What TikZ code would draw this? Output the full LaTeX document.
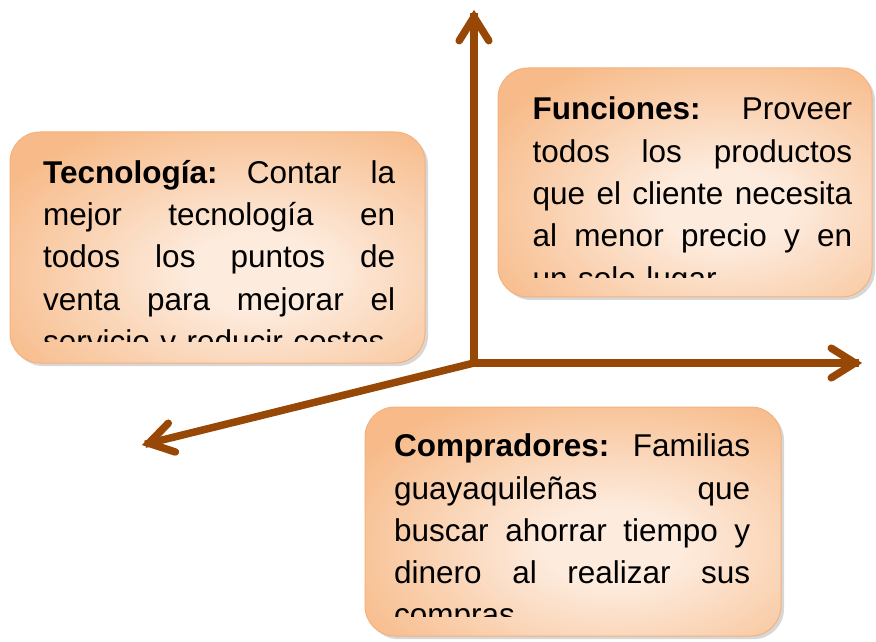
\documentclass[tikz,border=0pt]{standalone}
\usepackage{fontspec}
\setmainfont{Liberation Sans}
\usetikzlibrary{calc}
\definecolor{arrowbrown}{HTML}{984806}
\definecolor{boxorange}{HTML}{F7BA88}
\definecolor{boxlight}{HTML}{FDEBDD}
\definecolor{boxedge}{HTML}{F3B27F}
\pgfdeclareradialshading{boxrad}{\pgfpoint{0bp}{0bp}}{color(0bp)=(boxlight); color(7bp)=(boxlight); color(30bp)=(boxorange); color(50bp)=(boxorange)}
\newlength{\jw}
\newcommand{\jl}[1]{\leavevmode\hbox to \jw{#1}}
\newcommand{\gbox}[4]{%
  \fill[boxshadow] ($(#1,#2)+(3,-3)$) rectangle ($(#3,#4)+(3,-3)$);
  \begin{scope}
    \clip[rounded corners=30pt] (#1,#2) rectangle (#3,#4);
    \shade[shading=boxrad] (#1,#2) rectangle ($(#3,#4)+(80,-50)$);
  \end{scope}
  \draw[rounded corners=30pt, draw=boxedge, line width=1pt] (#1,#2) rectangle (#3,#4);
}
\tikzset{
  boxshadow/.style={rounded corners=30pt, fill=black!35, opacity=0.45},
  boxtext/.style={anchor=base west, inner sep=0pt, align=left, text width=#1,
    execute at begin node={\setlength{\jw}{#1}},
    font=\fontsize{31.5}{42.3}\selectfont},
  axisline/.style={draw=arrowbrown, line width=7.5pt, line cap=rect},
  chevron/.style={draw=arrowbrown, line width=7.5pt, line cap=round, line join=miter}
}
\begin{document}
\begin{tikzpicture}[x=1pt,y=1pt]
\useasboundingbox (0,0) rectangle (876,641);
% box 1
\gbox{10}{509}{425}{278}
\begin{scope}
\clip (10,509) rectangle (425,299);
\node[boxtext=352pt] (tec) at (43,457.7) {%
\jl{\textbf{Tecnología:}\hfill Contar\hfill la}\\
\jl{mejor\hfill tecnología\hfill en}\\
\jl{todos\hfill los\hfill puntos\hfill de}\\
\jl{venta\hfill para\hfill mejorar\hfill el}\\
servicio y reducir costos.};
\end{scope}
% box 2
\gbox{498}{573}{872}{344}
\begin{scope}
\clip (498,573) rectangle (872,363);
\node[boxtext=319.5pt] (fun) at (532.5,521) {%
\jl{\textbf{Funciones:}\hfill Proveer}\\
\jl{todos\hfill los\hfill productos}\\
\jl{que\hfill el\hfill cliente\hfill necesita}\\
\jl{al\hfill menor\hfill precio\hfill y\hfill en}\\
un solo lugar.};
\end{scope}
% box 3
\gbox{365}{234}{781}{5}
\begin{scope}
\clip (365,234) rectangle (781,25);
\node[boxtext=356pt] (com) at (394,184.3) {%
\jl{\textbf{Compradores:}\hfill Familias}\\
\jl{guayaquileñas\hfill que}\\
\jl{buscar\hfill ahorrar\hfill tiempo\hfill y}\\
\jl{dinero\hfill al\hfill realizar\hfill sus}\\
compras.};
\end{scope}
% axes
\coordinate (O) at (474,278);
\coordinate (up) at (474,624);
\coordinate (rt) at (855,278);
\coordinate (lf) at (148.8,197.7);
\draw[axisline] (O) -- (up);
\draw[axisline] (O) -- (rt);
\draw[axisline] (O) -- (lf);
\foreach \t in {up,rt,lf}{
  \draw[chevron] ($(\t)!28pt!32:(O)$) -- (\t) -- ($(\t)!28pt!-32:(O)$);
}
\end{tikzpicture}
\end{document}
